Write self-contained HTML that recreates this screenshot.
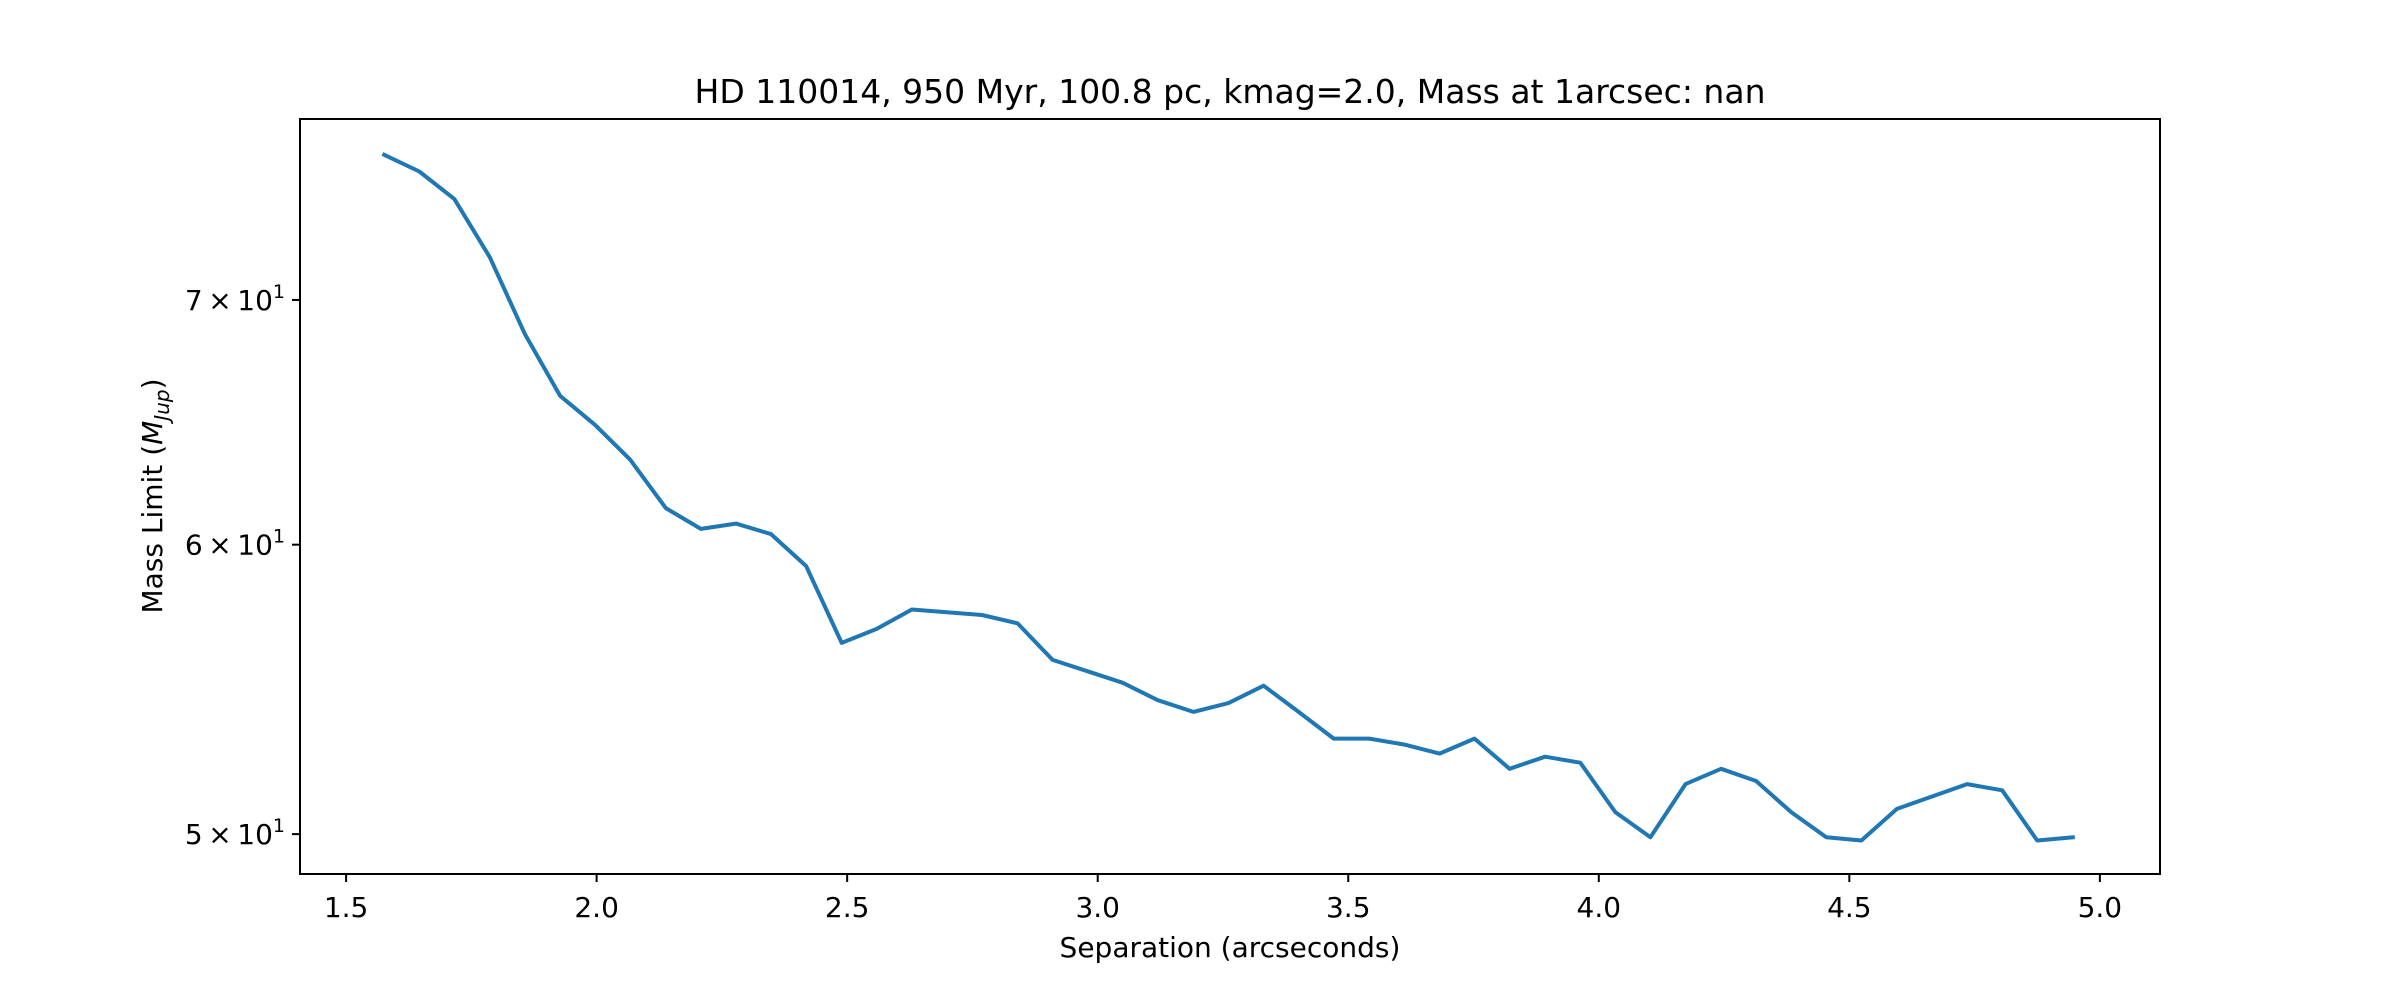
<!DOCTYPE html>
<html><head><meta charset="utf-8"><style>
html,body{margin:0;padding:0;background:#fff;}
svg{display:block;font-family:"DejaVu Sans","Liberation Sans",sans-serif;}
</style></head><body>
<svg id="chart" width="2400" height="1000" viewBox="0 0 2400 1000" xmlns="http://www.w3.org/2000/svg">
<rect x="0" y="0" width="2400" height="1000" fill="#fff"/>
<text x="1230" y="103" font-size="33" text-anchor="middle" fill="#000">HD 110014, 950 Myr, 100.8 pc, kmag=2.0, Mass at 1arcsec: nan</text>
<g id="xticks"></g>
<g id="yticks"></g>
<path id="series" fill="none" stroke="#1f77b4" stroke-width="4" stroke-linejoin="round" stroke-linecap="square"/>
<rect x="300" y="119" width="1860" height="755" fill="none" stroke="#000" stroke-width="2"/>
<text x="1230" y="957" font-size="28" text-anchor="middle" fill="#000">Separation (arcseconds)</text>
<text transform="translate(162,496) rotate(-90)" font-size="28" text-anchor="middle" fill="#000">Mass Limit (<tspan font-style="italic">M</tspan><tspan font-style="italic" font-size="20" dy="7">Jup</tspan><tspan dy="-7">)</tspan></text>
</svg>
<script>
const xTicks = [1.5, 2.0, 2.5, 3.0, 3.5, 4.0, 4.5, 5.0];
const xTickLabels = ["1.5", "2.0", "2.5", "3.0", "3.5", "4.0", "4.5", "5.0"];
const yTicks = [50, 60, 70];
const yTickMantissa = ["5", "6", "7"];
const separation = [1.576,1.646,1.716,1.787,1.857,1.927,1.997,2.067,2.138,2.208,2.278,2.348,2.418,2.489,2.559,2.629,2.699,2.769,2.840,2.910,2.980,3.050,3.120,3.191,3.261,3.331,3.401,3.471,3.542,3.612,3.682,3.752,3.822,3.893,3.963,4.033,4.103,4.173,4.244,4.314,4.384,4.454,4.524,4.595,4.665,4.735,4.805,4.875,4.946];
const massLimit = [76.7,75.9,74.6,71.9,68.5,65.9,64.7,63.3,61.4,60.6,60.8,60.4,59.2,56.4,56.9,57.6,57.5,57.4,57.1,55.8,55.4,55.0,54.4,54.0,54.3,54.9,54.0,53.1,53.1,52.9,52.6,53.1,52.1,52.5,52.3,50.7,49.9,51.6,52.1,51.7,50.7,49.9,49.8,50.8,51.2,51.6,51.4,49.8,49.9];

const L=300,R=2160,T=119,B=874;
const xMin=1.408,xMax=5.12,yMin=48.76,yMax=78.45;
function xs(v){return L+(v-xMin)/(xMax-xMin)*(R-L);}
function ys(v){return B-(Math.log(v)-Math.log(yMin))/(Math.log(yMax)-Math.log(yMin))*(B-T);}
const NS="http://www.w3.org/2000/svg";
const xg=document.getElementById('xticks'), yg=document.getElementById('yticks');
xTicks.forEach((t,i)=>{
  const x=xs(t);
  const ln=document.createElementNS(NS,'line');
  ln.setAttribute('x1',x);ln.setAttribute('x2',x);ln.setAttribute('y1',B);ln.setAttribute('y2',B+8);
  ln.setAttribute('stroke','#000');ln.setAttribute('stroke-width','2');
  
  
  xg.appendChild(ln);
  const tx=document.createElementNS(NS,'text');
  tx.setAttribute('x',x);tx.setAttribute('y',B+43);tx.setAttribute('font-size','28');tx.setAttribute('text-anchor','middle');
  tx.textContent=xTickLabels[i];
  
  
  xg.appendChild(tx);
});
yTicks.forEach((t,i)=>{
  const y=ys(t);
  const ln=document.createElementNS(NS,'line');
  ln.setAttribute('x1',L-8);ln.setAttribute('x2',L);ln.setAttribute('y1',y);ln.setAttribute('y2',y);
  ln.setAttribute('stroke','#000');ln.setAttribute('stroke-width','2');
  
  
  yg.appendChild(ln);
  const tx=document.createElementNS(NS,'text');
  tx.setAttribute('x',L-15);tx.setAttribute('y',y+10);tx.setAttribute('font-size','28');tx.setAttribute('text-anchor','end');
  tx.innerHTML=yTickMantissa[i]+'\u2009\u00d7\u200910<tspan font-size="19" dy="-12">1</tspan>';
  
  
  yg.appendChild(tx);
});
let d='';
separation.forEach((s,i)=>{d+=(i?'L':'M')+xs(s).toFixed(1)+','+ys(massLimit[i]).toFixed(1);});
document.getElementById('series').setAttribute('d',d);
</script>
</body></html>
